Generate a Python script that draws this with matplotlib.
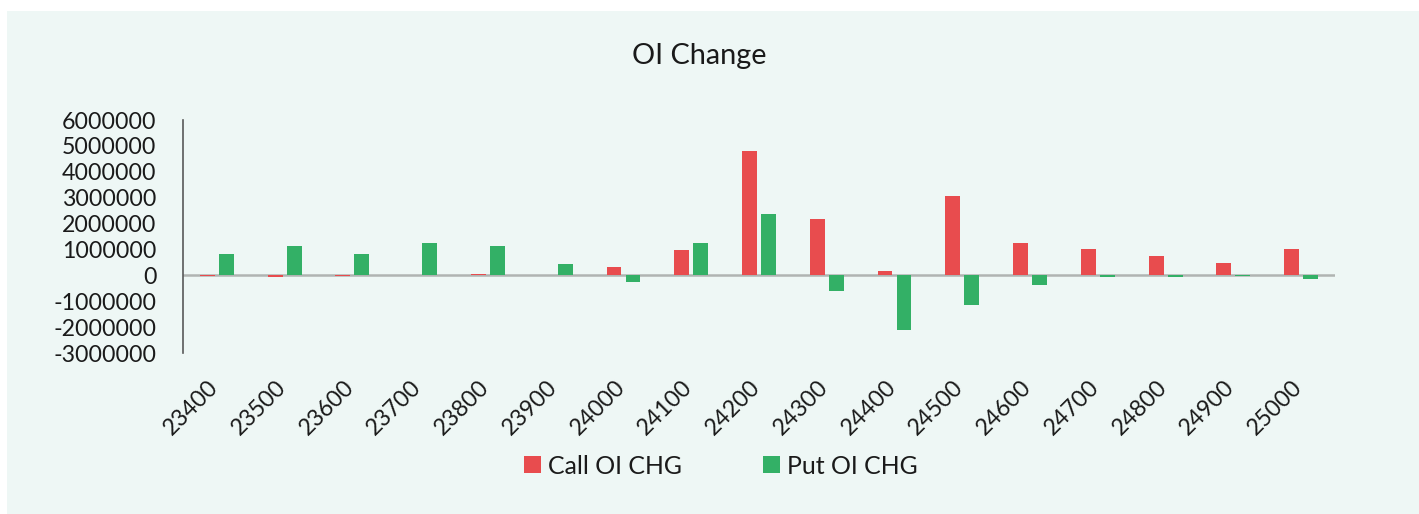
import numpy as np
import matplotlib.pyplot as plt
import matplotlib.transforms as mtransforms
from matplotlib.patches import Rectangle

# Daten
strikes = ['23400', '23500', '23600', '23700', '23800', '23900', '24000', '24100', '24200',
           '24300', '24400', '24500', '24600', '24700', '24800', '24900', '25000']
call_chg = [-10000, -80000, -10000, 10000, 70000, 20000, 340000, 990000, 4810000,
            2160000, 180000, 3050000, 1250000, 1020000, 760000, 460000, 1020000]
put_chg = [840000, 1150000, 840000, 1260000, 1120000, 420000, -260000, 1260000, 2380000,
           -620000, -2120000, -1130000, -370000, -60000, -60000, -10000, -140000]
yticks = [-3000000, -2000000, -1000000, 0, 1000000, 2000000, 3000000, 4000000, 5000000, 6000000]

red = '#E84C4E'
green = '#33B066'
bg = '#EEF7F5'

plt.rcParams['font.family'] = ['Lato', 'DejaVu Sans']

fig = plt.figure(figsize=(14.19, 5.14), dpi=100)
fig.patch.set_facecolor('white')
# Hintergrundfläche
fig.patches.append(Rectangle((7 / 1419, 0), 1 - 7 / 1419, 1 - 11 / 514,
                             transform=fig.transFigure, facecolor=bg, edgecolor='none', zorder=-5))

ax = fig.add_axes([183 / 1419, 1 - 353 / 514, (1335 - 183) / 1419, (353 - 120) / 514])
ax.set_facecolor('none')

x = np.arange(len(strikes))
w = 0.22
ax.bar(x - 0.14, call_chg, w, color=red, label='Call OI CHG', zorder=3)
ax.bar(x + 0.14, put_chg, w, color=green, label='Put OI CHG', zorder=3)

ax.set_xlim(-0.5, len(strikes) - 0.5)
ax.set_ylim(-3000000, 6000000)
ax.set_yticks(yticks)
ax.set_yticklabels([str(v) for v in yticks], fontsize=16.7, color='#1a1a1a')
ax.tick_params(axis='y', length=0, pad=19)
ax.tick_params(axis='x', length=0, pad=22)
ax.set_xticks(x)
ax.set_xticklabels(strikes, rotation=45, ha='right', va='center', rotation_mode='anchor',
                   fontsize=16.7, color='#1a1a1a')
# kleine Verschiebung der Beschriftung
shift = mtransforms.ScaledTranslation(-0.02, 0, fig.dpi_scale_trans)
for lab in ax.get_xticklabels():
    lab.set_transform(lab.get_transform() + shift)

for s in ['top', 'right', 'bottom']:
    ax.spines[s].set_visible(False)
ax.spines['left'].set_color('#595959')
ax.spines['left'].set_linewidth(1.2)
ax.axhline(0, color='#B0B4B2', linewidth=1.8, zorder=2)

fig.text(699 / 1419, 1 - 56 / 514, 'OI Change', ha='center', va='center', fontsize=20.8, color='#1a1a1a')

leg = fig.legend(loc='center', bbox_to_anchor=(721 / 1419, 1 - 466 / 514), ncol=2, frameon=False,
                 fontsize=17.9, handlelength=0.68, handleheight=0.68, columnspacing=3.25,
                 handletextpad=0.3)
for t in leg.get_texts():
    t.set_color('#1a1a1a')

fig.savefig('out.png', dpi=100, facecolor=fig.get_facecolor())
